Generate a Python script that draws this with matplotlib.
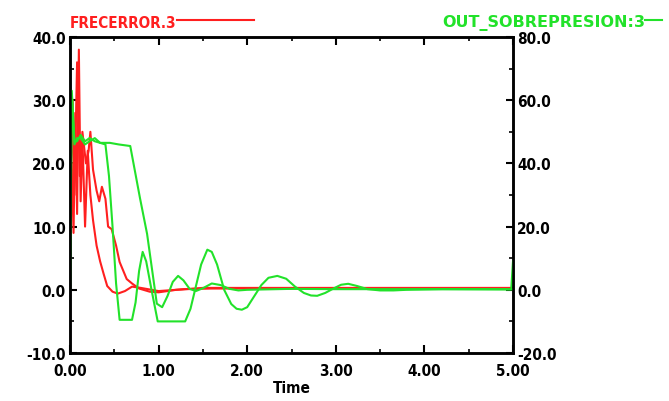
import numpy as np
import matplotlib.pyplot as plt
from matplotlib.lines import Line2D
from matplotlib.ticker import MultipleLocator

plt.rcParams['font.family'] = ['Liberation Sans Narrow', 'DejaVu Sans']
plt.rcParams['font.weight'] = 'bold'
plt.rcParams['font.stretch'] = 'condensed'

# FRECERROR.3 (eixo esquerdo), duas corridas
t_err1 = [0, 0.02, 0.04, 0.06, 0.08, 0.10, 0.12, 0.14, 0.17, 0.20, 0.23, 0.26,
          0.30, 0.34, 0.38, 0.42, 0.48, 0.54, 0.62, 0.70, 0.80, 1.0, 1.3, 1.6,
          2.0, 3.0, 4.0, 5.0]
err1 = [8, 20, 9, 28, 12, 38, 14, 24, 10, 22, 15, 11,
        7, 4.5, 2.5, 0.6, -0.3, -0.6, -0.2, 0.5, 0.3, -0.2, 0.1, 0.2,
        0.2, 0.2, 0.2, 0.2]

t_err2 = [0, 0.03, 0.05, 0.08, 0.11, 0.14, 0.18, 0.21, 0.23, 0.26, 0.30, 0.33,
          0.36, 0.40, 0.43, 0.47, 0.52, 0.56, 0.64, 0.70, 0.78, 0.9, 1.0, 1.2,
          1.5, 2.0, 3.0, 4.0, 5.0]
err2 = [10, 30, 15, 36, 18, 25, 20, 22, 25, 19, 15.7, 14,
        16.3, 14.4, 10, 9.6, 7, 4.4, 1.7, 1.0, 0.2, -0.3, -0.4, 0.0,
        0.3, 0.3, 0.3, 0.3, 0.3]

# OUT_SOBREPRESION:3 (eixo direito), duas corridas
t_sob1 = [0, 0.02, 0.05, 0.08, 0.12, 0.17, 0.22, 0.28, 0.34, 0.40, 0.44, 0.48,
          0.52, 0.56, 0.70, 0.74, 0.78, 0.82, 0.86, 0.92, 0.99, 1.30, 1.36,
          1.42, 1.48, 1.55, 1.60, 1.66, 1.74, 1.82, 1.88, 1.94, 2.00, 2.08,
          2.16, 2.24, 2.34, 2.44, 2.54, 2.64, 2.72, 2.79, 2.88, 2.98, 3.06,
          3.14, 3.24, 3.36, 3.50, 3.65, 3.80, 4.20, 5.0]
sob1 = [0, 63, 47, 47, 49, 47, 48, 47, 46.5, 46, 36, 20,
        2, -9.5, -9.5, -4, 6, 12, 9, 0, -10, -10, -6,
        1, 8, 12.7, 12, 8, 0, -4.5, -6, -6.3, -5.5, -2,
        1.5, 3.8, 4.4, 3.5, 1, -1, -1.8, -1.9, -1, 0.5, 1.6,
        1.9, 1.2, 0.2, -0.2, -0.2, 0.0, 0.2, 0.1]

t_sob2 = [0, 0.02, 0.05, 0.08, 0.12, 0.17, 0.22, 0.28, 0.34, 0.45, 0.55, 0.68,
          0.79, 0.87, 0.98, 1.04, 1.10, 1.16, 1.22, 1.28, 1.35, 1.42, 1.50,
          1.60, 1.70, 1.80, 1.90, 2.0, 2.5, 3.0, 4.0, 4.98, 5.0]
sob2 = [0, 62, 46, 48, 48, 46, 47, 48, 46.5, 46.5, 46, 45.5,
        29, 17.7, -4.4, -5.5, -2, 2.5, 4.4, 3, 0.3, -0.4, 0.5,
        2, 1.5, 0.3, -0.2, 0.0, 0.3, 0.2, 0.2, 0.2, 9]

red = '#ff1f1f'
green = '#22e22a'

fig = plt.figure(figsize=(6.69, 4.02), dpi=100)
ax = fig.add_axes([70/669, 48/402, 443/669, 316/402])
ax2 = ax.twinx()

ax.plot(t_err1, err1, color=red, lw=1.5)
ax.plot(t_err2, err2, color=red, lw=1.5)
ax2.plot(t_sob1, sob1, color=green, lw=1.5)
ax2.plot(t_sob2, sob2, color=green, lw=1.5)

ax.set_xlim(0, 5)
ax.set_ylim(-10, 40)
ax2.set_ylim(-20, 80)

ax.xaxis.set_major_locator(MultipleLocator(1))
ax.xaxis.set_minor_locator(MultipleLocator(0.5))
ax.yaxis.set_major_locator(MultipleLocator(10))
ax.yaxis.set_minor_locator(MultipleLocator(5))
ax2.yaxis.set_major_locator(MultipleLocator(20))
ax2.yaxis.set_minor_locator(MultipleLocator(10))

ax.xaxis.set_major_formatter(lambda v, p: f'{v:.2f}')
ax.yaxis.set_major_formatter(lambda v, p: f'{v:.1f}')
ax2.yaxis.set_major_formatter(lambda v, p: f'{v:.1f}')

ax.tick_params(axis='x', which='major', direction='in', length=6, width=1.5,
               top=True, labelsize=11, pad=7)
ax.tick_params(axis='x', which='minor', direction='in', length=3, width=1.2, top=True)
ax.tick_params(axis='y', which='major', direction='in', length=5, width=1.5,
               labelsize=11, pad=3)
ax.tick_params(axis='y', which='minor', direction='in', length=3, width=1.2)
ax2.tick_params(axis='y', which='major', direction='in', length=5, width=1.5,
                labelsize=11, pad=3)
ax2.tick_params(axis='y', which='minor', direction='in', length=3, width=1.2)

for a in (ax, ax2):
    for s in a.spines.values():
        s.set_linewidth(1.8)

ax.set_xlabel('Time', fontsize=11, fontweight='bold', labelpad=2)

# legenda no topo
y_leg = 1 - 23/402
t1 = fig.text(70/669, y_leg, 'FRECERROR.3', color=red, fontsize=11,
              fontweight='bold', va='center', ha='left')
t2 = fig.text(645/669, y_leg, 'OUT_SOBREPRESION:3', color=green, fontsize=11.5,
              fontweight='bold', fontstretch='normal', va='center', ha='right')
fig.canvas.draw()
bb = t1.get_window_extent()
x0 = bb.x1 / 669
fig.add_artist(Line2D([x0, x0 + 77/669], [1 - 21/402, 1 - 21/402], color=red, lw=1.5))
fig.add_artist(Line2D([645/669, 662/669], [1 - 21/402, 1 - 21/402], color=green, lw=1.5))

plt.savefig('out.png', dpi=100)
